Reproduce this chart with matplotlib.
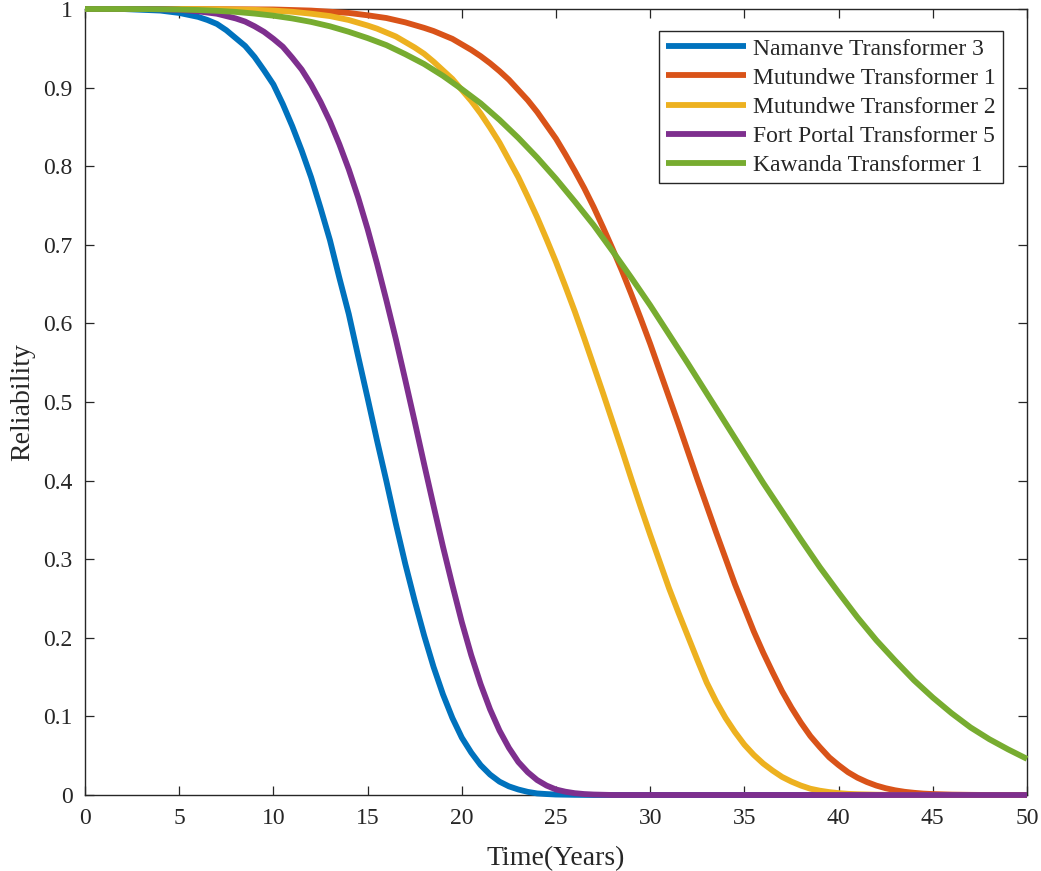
import matplotlib
matplotlib.use("Agg")
import matplotlib.pyplot as plt

# ---- data (time in years, reliability) ----
namanve_t3_time = [0, 1, 2, 3, 4, 5, 6, 6.5, 7, 7.5, 8, 8.5, 9, 9.5, 10, 10.5, 11, 11.5,
                   12, 12.5, 13, 13.5, 14, 14.5, 15, 15.5, 16, 16.5, 17, 17.5, 18, 18.5,
                   19, 19.5, 20, 20.5, 21, 21.5, 22, 22.5, 23, 23.5, 24, 24.5, 25, 26, 27, 50]
namanve_t3 = [1.0, 1.0, 1.0, 0.999, 0.998, 0.995, 0.99, 0.986, 0.981, 0.973, 0.963, 0.953,
              0.939, 0.922, 0.904, 0.879, 0.851, 0.820, 0.786, 0.747, 0.706, 0.658, 0.612,
              0.558, 0.505, 0.451, 0.399, 0.345, 0.294, 0.247, 0.203, 0.163, 0.128, 0.098,
              0.073, 0.054, 0.038, 0.026, 0.017, 0.011, 0.007, 0.004, 0.002, 0.0012,
              0.0006, 0.0002, 0.0, 0.0]

mutundwe_t1_time = [0, 5, 10, 12, 14, 15, 16, 17, 18, 18.5, 19, 19.5, 20, 20.5, 21, 21.5,
                    22, 22.5, 23, 23.5, 24, 24.5, 25, 25.5, 26, 26.5, 27, 27.5, 28, 28.5,
                    29, 29.5, 30, 30.5, 31, 31.5, 32, 32.5, 33, 33.5, 34, 34.5, 35, 35.5,
                    36, 36.5, 37, 37.5, 38, 38.5, 39, 39.5, 40, 40.5, 41, 41.5, 42, 42.5,
                    43, 43.5, 44, 44.5, 45, 46, 47, 48, 50]
mutundwe_t1 = [1.0, 1.0, 0.9994, 0.998, 0.995, 0.992, 0.9885, 0.983, 0.976, 0.972, 0.967,
               0.962, 0.955, 0.948, 0.940, 0.931, 0.921, 0.910, 0.897, 0.884, 0.869, 0.852,
               0.835, 0.815, 0.794, 0.772, 0.748, 0.722, 0.695, 0.667, 0.637, 0.606, 0.574,
               0.540, 0.506, 0.472, 0.437, 0.402, 0.368, 0.334, 0.301, 0.268, 0.238, 0.208,
               0.181, 0.156, 0.132, 0.111, 0.092, 0.075, 0.061, 0.048, 0.038, 0.029, 0.022,
               0.0165, 0.012, 0.0086, 0.006, 0.0041, 0.0028, 0.0018, 0.0012, 0.0005, 0.0002,
               0.0, 0.0]

mutundwe_t2_time = [0, 5, 7, 9, 10, 11, 12, 13, 14, 15, 15.5, 16, 16.5, 17, 17.5, 18, 18.5,
                    19, 19.5, 20, 20.5, 21, 21.5, 22, 22.5, 23, 23.5, 24, 24.5, 25, 25.5,
                    26, 26.5, 27, 27.5, 28, 28.5, 29, 29.5, 30, 30.5, 31, 31.5, 32, 32.5,
                    33, 33.5, 34, 34.5, 35, 35.5, 36, 36.5, 37, 37.5, 38, 38.5, 39, 39.5,
                    40, 40.5, 41, 42, 43, 44, 50]
mutundwe_t2 = [1.0, 1.0, 0.9997, 0.9989, 0.998, 0.9965, 0.994, 0.991, 0.986, 0.979, 0.975,
               0.970, 0.965, 0.958, 0.951, 0.943, 0.933, 0.922, 0.911, 0.897, 0.883, 0.867,
               0.849, 0.830, 0.808, 0.786, 0.761, 0.735, 0.707, 0.678, 0.647, 0.615, 0.581,
               0.546, 0.511, 0.475, 0.439, 0.402, 0.366, 0.331, 0.297, 0.263, 0.232, 0.202,
               0.172, 0.143, 0.119, 0.098, 0.080, 0.064, 0.051, 0.040, 0.031, 0.023, 0.017,
               0.012, 0.008, 0.0055, 0.0037, 0.0024, 0.0015, 0.001, 0.0004, 0.0001, 0.0, 0.0]

fort_portal_t5_time = [0, 1, 2, 3, 4, 5, 6, 7, 8, 8.5, 9, 9.5, 10, 10.5, 11, 11.5, 12, 12.5,
                       13, 13.5, 14, 14.5, 15, 15.5, 16, 16.5, 17, 17.5, 18, 18.5, 19, 19.5,
                       20, 20.5, 21, 21.5, 22, 22.5, 23, 23.5, 24, 24.5, 25, 25.5, 26, 26.5,
                       27, 28, 50]
fort_portal_t5 = [1.0, 1.0, 1.0, 1.0, 0.9997, 0.999, 0.997, 0.994, 0.988, 0.984, 0.978,
                  0.971, 0.962, 0.952, 0.938, 0.923, 0.904, 0.882, 0.857, 0.828, 0.796,
                  0.760, 0.720, 0.676, 0.629, 0.580, 0.528, 0.475, 0.421, 0.368, 0.316,
                  0.267, 0.220, 0.178, 0.141, 0.109, 0.082, 0.060, 0.042, 0.029, 0.019,
                  0.012, 0.007, 0.0042, 0.0023, 0.0012, 0.0006, 0.0, 0.0]

kawanda_t1_time = list(range(0, 51))
kawanda_t1 = [1.0, 1.0, 1.0, 0.9999, 0.9997, 0.9993, 0.9987, 0.9977, 0.9963, 0.9942,
              0.9915, 0.988, 0.9836, 0.978, 0.971, 0.963, 0.954, 0.9425, 0.930, 0.915,
              0.898, 0.880, 0.859, 0.836, 0.811, 0.784, 0.755, 0.725, 0.692, 0.658,
              0.623, 0.586, 0.549, 0.511, 0.473, 0.435, 0.397, 0.361, 0.325, 0.290,
              0.2575, 0.226, 0.197, 0.171, 0.146, 0.124, 0.104, 0.086, 0.071, 0.058, 0.046]

series_names = ["Namanve Transformer 3", "Mutundwe Transformer 1",
                "Mutundwe Transformer 2", "Fort Portal Transformer 5",
                "Kawanda Transformer 1"]
series_times = [namanve_t3_time, mutundwe_t1_time, mutundwe_t2_time,
                fort_portal_t5_time, kawanda_t1_time]
series_values = [namanve_t3, mutundwe_t1, mutundwe_t2, fort_portal_t5, kawanda_t1]
series_colors = ["#0072BD", "#D95319", "#EDB120", "#7E2F8E", "#77AC30"]

x_ticks = list(range(0, 51, 5))
y_ticks = [0, 0.1, 0.2, 0.3, 0.4, 0.5, 0.6, 0.7, 0.8, 0.9, 1.0]
y_tick_labels = ["0", "0.1", "0.2", "0.3", "0.4", "0.5", "0.6", "0.7", "0.8", "0.9", "1"]

plt.rcParams["font.family"] = ["Liberation Serif", "DejaVu Serif"]

W, H = 1041, 871
fig = plt.figure(figsize=(W / 100, H / 100), dpi=100)
ax = fig.add_axes([85 / W, (H - 795) / H, (1027 - 85) / W, (795 - 9) / H])

for name, ts, vals, col in zip(series_names, series_times, series_values, series_colors):
    ax.plot(ts, vals, color=col, lw=4.2, label=name, clip_on=False,
            solid_capstyle="butt", solid_joinstyle="round", zorder=3)

ax.set_xlim(0, 50)
ax.set_ylim(0, 1)
ax.set_xticks(x_ticks)
ax.set_xticklabels([str(v) for v in x_ticks])
ax.set_yticks(y_ticks)
ax.set_yticklabels(y_tick_labels)

for s in ax.spines.values():
    s.set_color("#262626")
    s.set_linewidth(1.0)
    s.set_zorder(2)
ax.tick_params(direction="in", length=6.5, width=0.9, colors="#262626",
               labelsize=17, pad=9, top=True, right=True)

ax.set_xlabel("Time(Years)", fontsize=20, color="#262626", labelpad=13)
ax.set_ylabel("Reliability", fontsize=20, color="#262626", labelpad=6)

leg = ax.legend(loc="upper right", bbox_to_anchor=((1003 - 85) / 942, (795 - 31) / 786),
                borderaxespad=0, fontsize=17, handlelength=3.4, handletextpad=0.3,
                labelspacing=0.32, borderpad=0.3, fancybox=False, framealpha=1,
                edgecolor="#262626")
leg.get_frame().set_linewidth(1.0)
for t in leg.get_texts():
    t.set_color("#262626")

fig.savefig("out.png", dpi=100, facecolor="white")
